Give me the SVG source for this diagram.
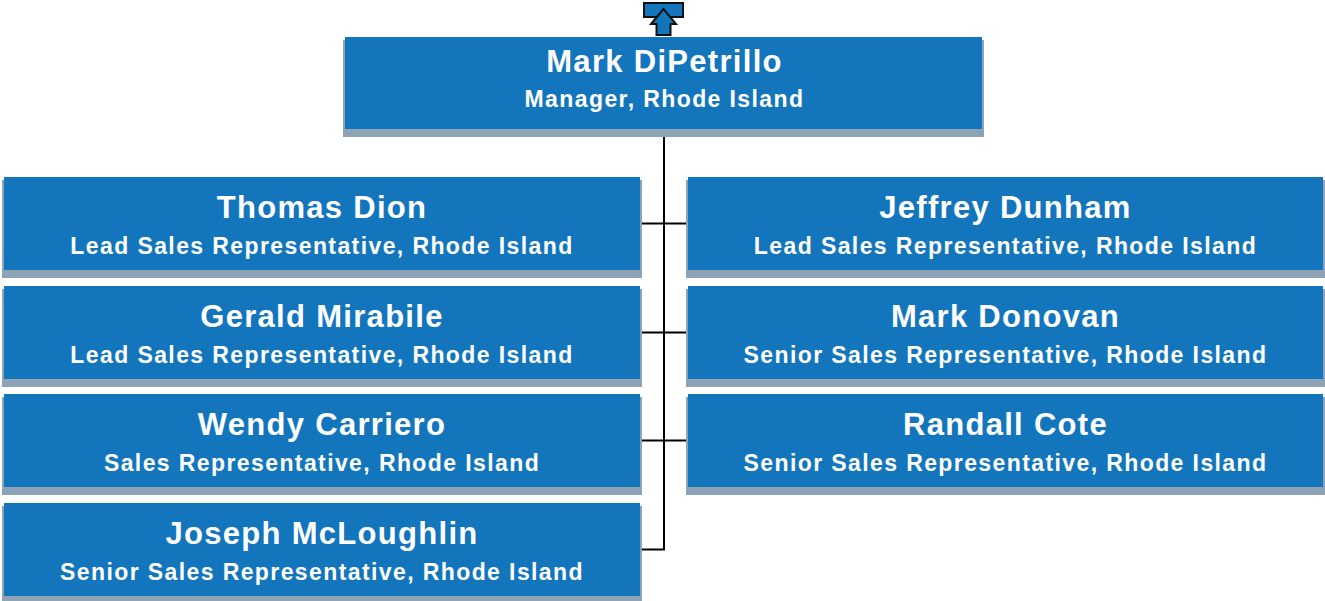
<svg xmlns="http://www.w3.org/2000/svg" width="1325" height="601" viewBox="0 0 1325 601">
<style>
.sh{fill:#8fa3b6}
.bx{fill:#1376bd}
.nm{font-family:"Liberation Sans",Arial,sans-serif;font-weight:bold;font-size:31px;fill:#fff;text-anchor:middle;letter-spacing:1.3px}
.tt{font-family:"Liberation Sans",Arial,sans-serif;font-weight:bold;font-size:23px;fill:#fff;text-anchor:middle;letter-spacing:1.4px}
.ln{stroke:#000;stroke-width:2;fill:none}
</style>
<rect width="1325" height="601" fill="#fff"/>
<g id="up-icon">
<rect x="644" y="3" width="39" height="14" fill="#1376bd" stroke="#111" stroke-width="2"/>
<polygon points="663.5,9 651,24 656.5,24 656.5,35 670.5,35 670.5,24 676,24" fill="#1376bd" stroke="#111" stroke-width="2" stroke-linejoin="miter"/>
</g>
<g id="connectors">
<path class="ln" d="M664,129 V549.5 H640 M640,223.5 H688 M640,332.5 H688 M640,440.5 H688"/>
</g>
<g id="n-mark-dipetrillo">
<rect class="sh" x="343" y="40" width="641" height="97"/>
<rect class="bx" x="345" y="37" width="637" height="92"/>
<text class="nm" x="664.5" y="72">Mark DiPetrillo</text>
<text class="tt" x="664.5" y="107">Manager, Rhode Island</text>
</g>
<g id="n-thomas-dion">
<rect class="sh" x="2" y="180" width="640" height="98"/>
<rect class="bx" x="4" y="177" width="636" height="93"/>
<text class="nm" x="322" y="218">Thomas Dion</text>
<text class="tt" x="322" y="254">Lead Sales Representative, Rhode Island</text>
</g>
<g id="n-gerald-mirabile">
<rect class="sh" x="2" y="289" width="640" height="98"/>
<rect class="bx" x="4" y="286" width="636" height="93"/>
<text class="nm" x="322" y="327">Gerald Mirabile</text>
<text class="tt" x="322" y="363">Lead Sales Representative, Rhode Island</text>
</g>
<g id="n-wendy-carriero">
<rect class="sh" x="2" y="397" width="640" height="98"/>
<rect class="bx" x="4" y="394" width="636" height="93"/>
<text class="nm" x="322" y="435">Wendy Carriero</text>
<text class="tt" x="322" y="471">Sales Representative, Rhode Island</text>
</g>
<g id="n-joseph-mcloughlin">
<rect class="sh" x="2" y="506" width="640" height="98"/>
<rect class="bx" x="4" y="503" width="636" height="93"/>
<text class="nm" x="322" y="544">Joseph McLoughlin</text>
<text class="tt" x="322" y="580">Senior Sales Representative, Rhode Island</text>
</g>
<g id="n-jeffrey-dunham">
<rect class="sh" x="686" y="180" width="639" height="98"/>
<rect class="bx" x="688" y="177" width="635" height="93"/>
<text class="nm" x="1005.5" y="218">Jeffrey Dunham</text>
<text class="tt" x="1005.5" y="254">Lead Sales Representative, Rhode Island</text>
</g>
<g id="n-mark-donovan">
<rect class="sh" x="686" y="289" width="639" height="98"/>
<rect class="bx" x="688" y="286" width="635" height="93"/>
<text class="nm" x="1005.5" y="327">Mark Donovan</text>
<text class="tt" x="1005.5" y="363">Senior Sales Representative, Rhode Island</text>
</g>
<g id="n-randall-cote">
<rect class="sh" x="686" y="397" width="639" height="98"/>
<rect class="bx" x="688" y="394" width="635" height="93"/>
<text class="nm" x="1005.5" y="435">Randall Cote</text>
<text class="tt" x="1005.5" y="471">Senior Sales Representative, Rhode Island</text>
</g>
</svg>
